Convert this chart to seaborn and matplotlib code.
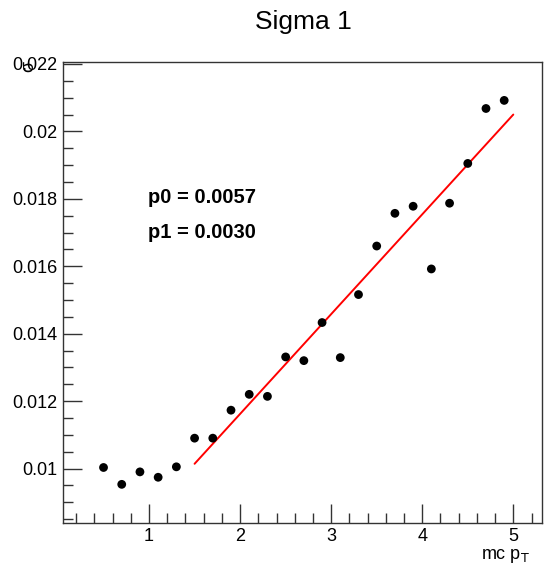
import numpy as np
import pandas as pd
import matplotlib
matplotlib.use("Agg")
import matplotlib.pyplot as plt
from matplotlib.ticker import MultipleLocator
import seaborn as sns

# data
pt = [0.5, 0.7, 0.9, 1.1, 1.3, 1.5, 1.7, 1.9, 2.1, 2.3, 2.5, 2.7,
      2.9, 3.1, 3.3, 3.5, 3.7, 3.9, 4.1, 4.3, 4.5, 4.7, 4.9]
sigma = [0.01003, 0.00953, 0.00990, 0.00974, 0.01005, 0.01090, 0.01090,
         0.01173, 0.01220, 0.01214, 0.01331, 0.01320, 0.01433, 0.01329,
         0.01516, 0.01660, 0.01757, 0.01778, 0.01592, 0.01787, 0.01905,
         0.02068, 0.02092]
fit_range = [1.5, 5.0]
p0 = 0.00570
p1 = 0.00296

sns.set_style("ticks")
plt.rcParams['font.family'] = ['Liberation Sans', 'DejaVu Sans']
plt.rcParams['text.color'] = 'black'
plt.rcParams['xtick.labelcolor'] = 'black'
plt.rcParams['ytick.labelcolor'] = 'black'

df = pd.DataFrame({'pt': pt, 'sigma': sigma})
fit_x = np.linspace(fit_range[0], fit_range[1], 50)
fit = pd.DataFrame({'pt': fit_x, 'sigma': p0 + p1 * fit_x})

fig = plt.figure(figsize=(5.44, 5.67), dpi=100)
ax = fig.add_axes([0.1158, 0.0780, 0.8805, 0.8127])

sns.lineplot(data=fit, x='pt', y='sigma', ax=ax, color='red', lw=1.4, zorder=2)
sns.scatterplot(data=df, x='pt', y='sigma', ax=ax, color='black', s=40,
                edgecolor='none', zorder=3)

ax.set_xlim(0.055, 5.315)
ax.set_ylim(0.00839, 0.02206)
ax.xaxis.set_major_locator(MultipleLocator(1))
ax.xaxis.set_minor_locator(MultipleLocator(0.2))
ax.yaxis.set_major_locator(MultipleLocator(0.002))
ax.yaxis.set_minor_locator(MultipleLocator(0.0005))
ax.yaxis.set_major_formatter(plt.FuncFormatter(lambda v, p: ('%g' % round(v, 4))))

ax.tick_params(which='both', direction='in', top=False, right=False,
               labelsize=13, color='#333333', width=1)
ax.tick_params(which='major', length=14, pad=4)
ax.tick_params(which='minor', length=7)
for sp in ax.spines.values():
    sp.set_color('#333333')
    sp.set_linewidth(1)

ax.set_xlabel('')
ax.set_ylabel('')
fig.text(0.975, 0.004, r'mc p$_{\mathrm{T}}$', ha='right', va='bottom', fontsize=13)
fig.text(0.052, 0.882, 'σ', rotation=90, ha='center', va='center', fontsize=13)
fig.text(0.557, 0.962, 'Sigma 1', ha='center', va='center', fontsize=19)

ax.text(0.177, 0.705, 'p0 = %.4f' % p0, transform=ax.transAxes, fontsize=14.5,
        fontweight='bold', va='center')
ax.text(0.177, 0.631, 'p1 = %.4f' % p1, transform=ax.transAxes, fontsize=14.5,
        fontweight='bold', va='center')

fig.savefig('out.png', dpi=100)
